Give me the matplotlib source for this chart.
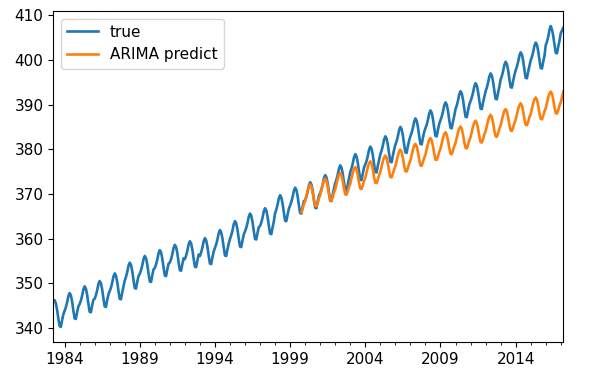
import numpy as np
import matplotlib
matplotlib.use("Agg")
import matplotlib.pyplot as plt
from matplotlib.ticker import MultipleLocator

plt.rcParams["font.size"] = 11

# monthly CO2 (ppm), observed, Apr 1983 .. Mar 2017
true_1983_1989 = [
    345.8, 346.2, 345.5, 344.1, 342.1, 340.4, 340.2, 341.7, 343.0,
    343.8, 344.6, 345.7, 347.1, 347.8, 347.3, 345.9, 343.9, 342.1, 342.0, 343.5, 344.8,
    345.3, 346.1, 347.2, 348.6, 349.3, 348.8, 347.4, 345.4, 343.6, 343.5, 345.0, 346.3,
    346.5, 347.3, 348.4, 349.8, 350.5, 350.0, 348.6, 346.6, 344.8, 344.7, 346.2, 347.5,
    348.2, 349.0, 350.1, 351.5, 352.2, 351.7, 350.3, 348.3, 346.5, 346.4, 347.9, 349.2,
    350.6, 351.4, 352.5, 353.9, 354.6, 354.1, 352.7, 350.7, 348.9, 348.8, 350.3, 351.6,
    352.1, 352.9, 354.0, 355.4, 356.1, 355.6, 354.2, 352.2, 350.4, 350.3, 351.8, 353.1,
]
true_1990_1999 = [
    353.4, 354.2, 355.3, 356.7, 357.4, 356.9, 355.5, 353.5, 351.7, 351.6, 353.1, 354.4,
    354.6, 355.4, 356.5, 357.9, 358.6, 358.1, 356.7, 354.7, 352.9, 352.8, 354.3, 355.6,
    355.4, 356.2, 357.3, 358.7, 359.4, 358.9, 357.5, 355.5, 353.7, 353.6, 355.1, 356.4,
    356.1, 356.9, 358.0, 359.4, 360.1, 359.6, 358.2, 356.2, 354.4, 354.3, 355.8, 357.1,
    357.9, 358.7, 359.8, 361.2, 361.9, 361.4, 360.0, 358.0, 356.2, 356.1, 357.6, 358.9,
    359.9, 360.7, 361.8, 363.2, 363.9, 363.4, 362.0, 360.0, 358.2, 358.1, 359.6, 360.9,
    361.6, 362.4, 363.5, 364.9, 365.6, 365.1, 363.7, 361.7, 359.9, 359.8, 361.3, 362.6,
    362.8, 363.6, 364.7, 366.1, 366.8, 366.3, 364.9, 362.9, 361.1, 361.0, 362.5, 363.8,
    365.7, 366.5, 367.6, 369.0, 369.7, 369.2, 367.8, 365.8, 364.0, 363.9, 365.4, 366.7,
    367.4, 368.2, 369.3, 370.7, 371.4, 370.9, 369.5, 367.5, 365.7, 365.6, 367.1, 368.4,
]
true_2000_2009 = [
    368.6, 369.4, 370.5, 371.9, 372.6, 372.1, 370.7, 368.7, 366.9, 366.8, 368.3, 369.6,
    370.2, 371.0, 372.1, 373.5, 374.2, 373.7, 372.3, 370.3, 368.5, 368.4, 369.9, 371.2,
    372.4, 373.2, 374.3, 375.7, 376.4, 375.9, 374.5, 372.5, 370.7, 370.6, 372.1, 373.4,
    374.9, 375.7, 376.8, 378.2, 378.9, 378.4, 377.0, 375.0, 373.2, 373.1, 374.6, 375.9,
    376.6, 377.4, 378.5, 379.9, 380.6, 380.1, 378.7, 376.7, 374.9, 374.8, 376.3, 377.6,
    378.9, 379.7, 380.8, 382.2, 382.9, 382.4, 381.0, 379.0, 377.2, 377.1, 378.6, 379.9,
    381.0, 381.8, 382.9, 384.3, 385.0, 384.5, 383.1, 381.1, 379.3, 379.2, 380.7, 382.0,
    382.9, 383.7, 384.8, 386.2, 386.9, 386.4, 385.0, 383.0, 381.2, 381.1, 382.6, 383.9,
    384.7, 385.5, 386.6, 388.0, 388.7, 388.2, 386.8, 384.8, 383.0, 382.9, 384.4, 385.7,
    386.5, 387.3, 388.4, 389.8, 390.5, 390.0, 388.6, 386.6, 384.8, 384.7, 386.2, 387.5,
]
true_2010_2017 = [
    389.0, 389.8, 390.9, 392.3, 393.0, 392.5, 391.1, 389.1, 387.3, 387.2, 388.7, 390.0,
    390.8, 391.6, 392.7, 394.1, 394.8, 394.3, 392.9, 390.9, 389.1, 389.0, 390.5, 391.8,
    393.0, 393.8, 394.9, 396.3, 397.0, 396.5, 395.1, 393.1, 391.3, 391.2, 392.7, 394.0,
    395.6, 396.4, 397.5, 398.9, 399.6, 399.1, 397.7, 395.7, 393.9, 393.8, 395.3, 396.6,
    397.7, 398.5, 399.6, 401.0, 401.7, 401.2, 399.8, 397.8, 396.0, 395.9, 397.4, 398.7,
    399.9, 400.7, 401.8, 403.2, 403.9, 403.4, 402.0, 400.0, 398.2, 398.1, 399.6, 400.9,
    403.3, 404.1, 405.2, 406.8, 407.6, 406.8, 405.4, 403.4, 401.6, 401.5, 403.0, 404.3,
    406.0, 406.6, 407.2,
]

# ARIMA prediction, Oct 1999 .. Mar 2017
arima_1999_2007 = [
    365.9, 366.7, 367.7,
    368.4, 369.6, 370.8, 371.7, 372.1, 371.6, 370.3, 368.6, 367.3, 367.2, 368.0, 369.0,
    369.7, 370.9, 372.1, 373.0, 373.4, 372.9, 371.6, 369.9, 368.6, 368.5, 369.3, 370.3,
    371.0, 372.2, 373.4, 374.3, 374.7, 374.2, 372.9, 371.2, 369.9, 369.8, 370.6, 371.6,
    372.3, 373.5, 374.7, 375.6, 376.0, 375.5, 374.2, 372.5, 371.2, 371.1, 371.9, 372.9,
    373.6, 374.8, 376.0, 376.9, 377.3, 376.8, 375.5, 373.8, 372.5, 372.4, 373.2, 374.2,
    374.9, 376.1, 377.3, 378.2, 378.6, 378.1, 376.8, 375.1, 373.8, 373.7, 374.5, 375.5,
    376.2, 377.4, 378.6, 379.5, 379.9, 379.4, 378.1, 376.4, 375.1, 375.0, 375.8, 376.8,
    377.5, 378.7, 379.9, 380.8, 381.2, 380.7, 379.4, 377.7, 376.4, 376.3, 377.1, 378.1,
]
arima_2008_2017 = [
    378.8, 380.0, 381.2, 382.1, 382.5, 382.0, 380.7, 379.0, 377.7, 377.6, 378.4, 379.4,
    380.1, 381.3, 382.5, 383.4, 383.8, 383.3, 382.0, 380.3, 379.0, 378.9, 379.7, 380.7,
    381.4, 382.6, 383.8, 384.7, 385.1, 384.6, 383.3, 381.6, 380.3, 380.2, 381.0, 382.0,
    382.7, 383.9, 385.1, 386.0, 386.4, 385.9, 384.6, 382.9, 381.6, 381.5, 382.3, 383.3,
    384.0, 385.2, 386.4, 387.3, 387.7, 387.2, 385.9, 384.2, 382.9, 382.8, 383.6, 384.6,
    385.3, 386.5, 387.7, 388.6, 389.0, 388.5, 387.2, 385.5, 384.2, 384.1, 384.9, 385.9,
    386.6, 387.8, 389.0, 389.9, 390.3, 389.8, 388.5, 386.8, 385.5, 385.4, 386.2, 387.2,
    387.9, 389.1, 390.3, 391.2, 391.6, 391.1, 389.8, 388.1, 386.8, 386.7, 387.5, 388.5,
    389.2, 390.4, 391.6, 392.5, 392.9, 392.4, 391.1, 389.4, 388.1, 388.0, 388.8, 389.8,
    390.5, 391.7, 392.9,
]

true_vals = np.array(true_1983_1989 + true_1990_1999 + true_2000_2009 + true_2010_2017)
arima_vals = np.array(arima_1999_2007 + arima_2008_2017)

# decimal-year positions of each month
t_true = 1983 + 3 / 12 + np.arange(len(true_vals)) / 12
t_arima = 1999 + 9 / 12 + np.arange(len(arima_vals)) / 12

fig = plt.figure(figsize=(6.03, 3.82), dpi=100)
ax = fig.add_axes([0.0884, 0.1047, 0.8457, 0.8665])

ax.plot(t_true, true_vals, color="#1f77b4", lw=1.9, label="true")
ax.plot(t_arima, arima_vals, color="#ff7f0e", lw=1.9, label="ARIMA predict")

ax.set_xlim(t_true[0], t_true[-1])
ax.set_xticks(np.arange(1984, 2015, 5))
ax.set_xticklabels([str(y) for y in range(1984, 2015, 5)])
ax.xaxis.set_minor_locator(MultipleLocator(1))
ax.legend(loc="upper left")

fig.savefig("out.png", dpi=100)
